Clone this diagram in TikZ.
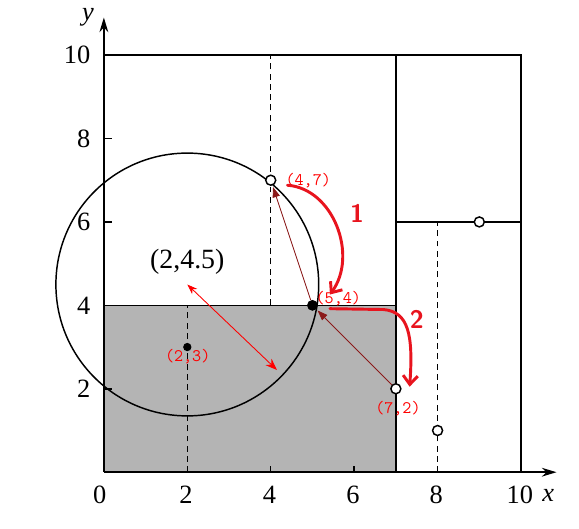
\documentclass[tikz,border=0pt]{standalone}
\usepackage{fontspec}
\setmainfont{Liberation Serif}
\usetikzlibrary{arrows.meta, calc}
\definecolor{cellgray}{HTML}{B4B4B4}
\definecolor{darkred}{HTML}{8B1A1A}
\definecolor{pen}{HTML}{E8141E}

\begin{document}
\begin{tikzpicture}[
  axis/.style={-{Stealth[length=10pt,width=6pt]}, line width=1pt},
  split/.style={line width=1pt},
  mainsplit/.style={line width=1.6pt},
  guide/.style={line width=1pt, dash pattern=on 4pt off 3pt},
  ticklabel/.style={font=\fontsize{18}{20}\selectfont},
  axislabel/.style={font=\fontsize{18}{20}\selectfont\itshape},
  solidpt/.style={circle, fill=black, inner sep=0pt, minimum size=0.2cm},
  bigpt/.style={circle, fill=black, inner sep=0pt, minimum size=0.26cm},
  openpt/.style={circle, draw=black, fill=white, line width=1pt, inner sep=0pt, minimum size=0.24cm},
  coordlabel/.style={text=red, font=\ttfamily\large},
  search/.style={-{Triangle[length=7pt,width=5pt]}, darkred, line width=0.6pt, shorten >=1pt},
  radiusarrow/.style={{Stealth[length=7pt,width=5pt]}-{Stealth[length=8pt,width=6pt]}, red, line width=0.6pt},
  hand/.style={-{Straight Barb[length=6pt,width=10pt]}, pen, line width=2pt, line cap=round},
  stepnum/.style={text=pen, font=\sffamily\bfseries\LARGE}
]
  \useasboundingbox (-2.49,-1.34) rectangle (11.39,11.32);

  % region below the split y=4
  \fill[cellgray] (0,0) rectangle (7,4);

  % axes and ticks
  \draw[axis] (0,0) -- (10.85,0);
  \draw[axis] (0,0) -- (0,10.9);
  \node[axislabel] (xname) at (10.65,-0.55) {x};
  \node[axislabel] (yname) at (-0.38,10.9) {y};
  \foreach \v in {2,4,6,8} {
    \draw[split] (0,\v) -- (0.2,\v);
    \draw[split] (\v,0) -- (\v,0.15);
  }
  \foreach \v in {2,4,...,10}
    \node[ticklabel, anchor=east] (ylab\v) at (-0.2,\v) {\v};
  \node[ticklabel] (xlab0) at (-0.1,-0.55) {0};
  \foreach \v in {2,4,...,10}
    \node[ticklabel] (xlab\v) at (\v-0.03,-0.55) {\v};

  % cells of the tree
  \draw[split] (0,10) -- (10,10) -- (10,0);
  \draw[mainsplit] (7,0) -- (7,10);
  \draw[split] (0,4) -- (7,4);
  \draw[split] (7,6) -- (10,6);
  \draw[guide] (2,0) -- (2,4);
  \draw[guide] (4,4) -- (4,10);
  \draw[guide] (8,0) -- (8,6);

  % search circle
  \coordinate (c) at (2,4.5);
  \draw[line width=1pt] (c) circle (3.15);
  \node[font=\fontsize{19}{21}\selectfont] (clabel) at (2,5.05) {(2,4.5)};

  % points
  \node[solidpt] (p23) at (2,3) {};
  \node[bigpt] (p54) at (5,4) {};
  \node[openpt] (p47) at (4,7) {};
  \node[openpt] (p72) at (7,2) {};
  \node[openpt] (p81) at (8,1) {};
  \node[openpt] (p96) at (9,6) {};

  \node[coordlabel] (l47) at (4.9,7.0) {(4,7)};
  \node[coordlabel] (l54) at (5.62,4.17) {(5,4)};
  \node[coordlabel] (l72) at (7.05,1.53) {(7,2)};
  \node[coordlabel] (l23) at (2.01,2.76) {(2,3)};

  % back-tracking path
  \coordinate (q) at (4.15,2.45);
  \draw[radiusarrow] (c) -- (q);
  \draw[search] (p72) -- (p54);
  \draw[search] (p54) -- (p47);

  \draw[hand] ($(p47)+(0.4,-0.12)$) .. controls (5.5,6.8) and (6.1,5.2) .. ($(p54)+(0.42,0.26)$);
  \node[stepnum] (s1) at (6.07,6.2) {1};
  \draw[hand] ($(p54)+(0.42,-0.08)$) -- (6.7,3.9) .. controls (7.3,3.85) and (7.42,3.3) .. ($(p72)+(0.33,0.05)$);
  \node[stepnum] (s2) at (7.5,3.66) {2};
\end{tikzpicture}
\end{document}
